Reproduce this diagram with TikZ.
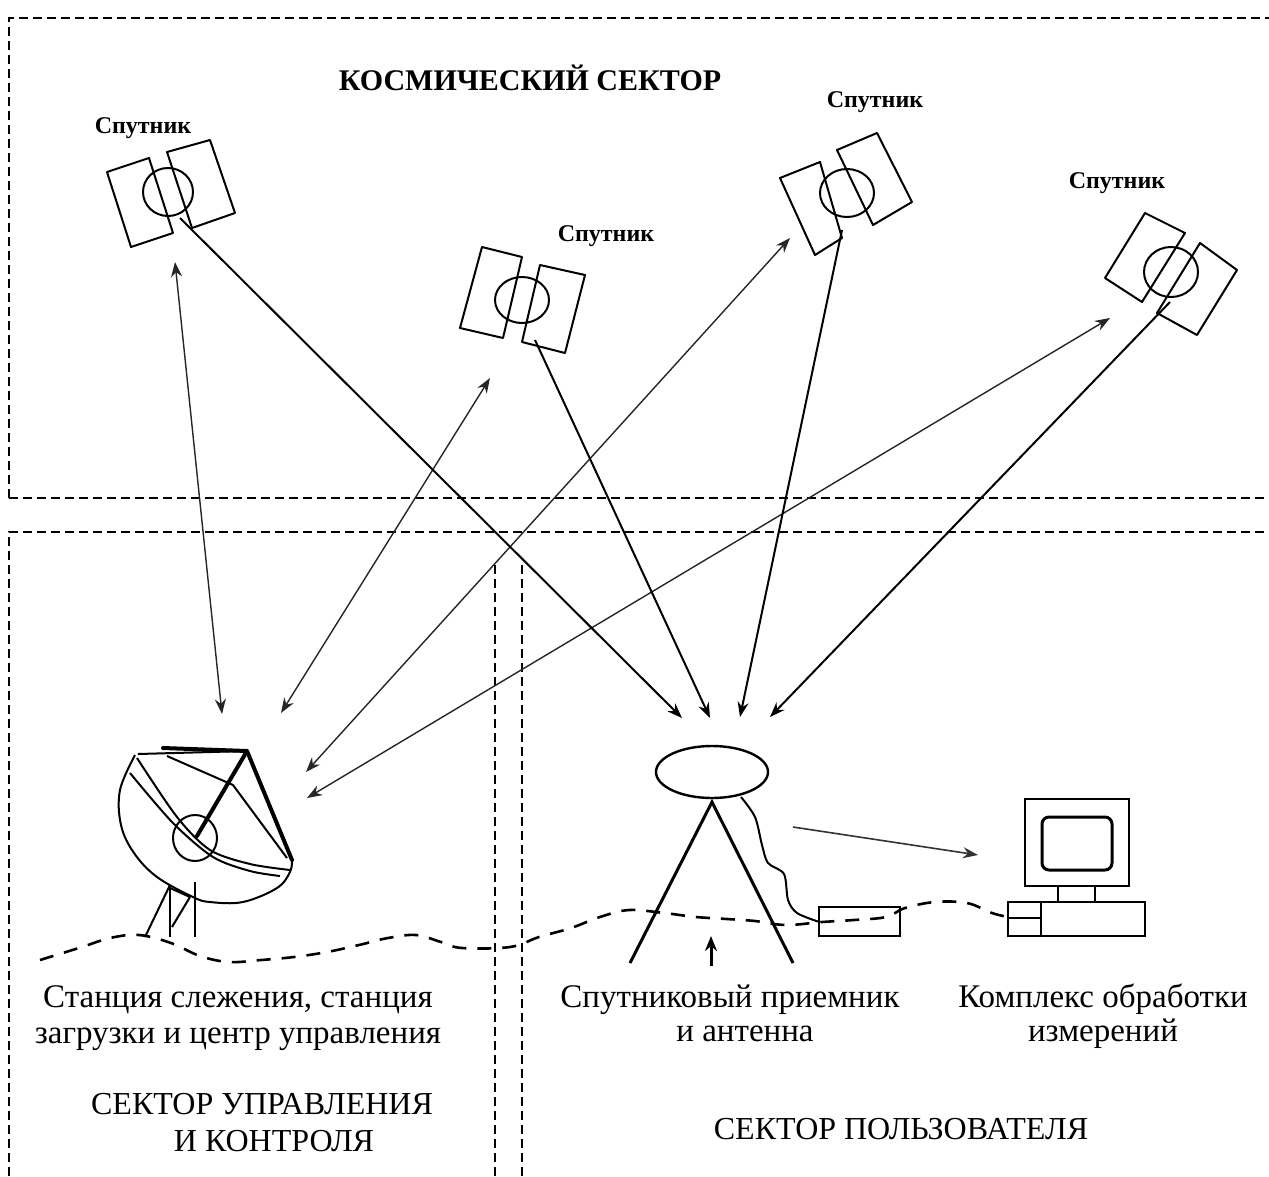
\documentclass[tikz,border=0pt]{standalone}
\usepackage{fontspec}
\setmainfont{Liberation Serif}
\usetikzlibrary{arrows.meta,shapes.geometric}

\tikzset{
  sector/.style={dash pattern=on 9pt off 5pt, line width=1.6pt},
  panel/.style={line width=2pt, line join=round},
  link/.style={line width=1.4pt, black!85, {Stealth[length=15pt,width=11pt]}-{Stealth[length=15pt,width=11pt]}},
  downlink/.style={line width=2pt, -{Stealth[length=15pt,width=11pt]}},
  ground/.style={line width=2.6pt, dash pattern=on 14pt off 11pt},
  thin/.style={line width=2pt, line join=round},
  thick/.style={line width=4pt, line cap=round, line join=round},
  lbl/.style={font=\fontsize{33}{36}\selectfont, anchor=base, inner sep=0pt},
  head/.style={font=\fontsize{32}{38}\selectfont, anchor=base, inner sep=0pt},
  satname/.style={font=\fontsize{24}{26}\selectfont\bfseries, inner sep=0pt},
}

\begin{document}
\begin{tikzpicture}[x=1pt,y=-1pt]
\useasboundingbox[fill=white] (0,0) rectangle (1269,1176);

% sector boundaries
\draw[sector] (9,498) -- (9,18) -- (1269,18);
\draw[sector] (9,498) -- (1269,498);
\draw[sector] (9,1176) -- (9,532) -- (1269,532);
\draw[sector] (495,565) -- (495,1176);
\draw[sector] (522,565) -- (522,1176);

\node[font=\fontsize{30}{34}\selectfont\bfseries, inner sep=0pt] (space) at (530,78) {КОСМИЧЕСКИЙ СЕКТОР};

% satellite 1
\draw[panel] (107,172) -- (149,158) -- (173,233) -- (131,247) -- cycle;
\draw[panel] (167,152) -- (210,140) -- (235,213) -- (192,228) -- cycle;
\draw[panel] (168,192) ellipse [x radius=25, y radius=24];
\node[satname] (n1) at (143,128) {Спутник};
\coordinate (s1a) at (175,262);
\coordinate (s1b) at (180,218);

% satellite 2
\draw[panel] (482,247) -- (522,257) -- (503,338) -- (460,328) -- cycle;
\draw[panel] (540,265) -- (585,275) -- (565,353) -- (522,342) -- cycle;
\draw[panel] (522,300) ellipse [x radius=27, y radius=23];
\node[satname] (n2) at (606,236) {Спутник};
\coordinate (s2a) at (490,378);
\coordinate (s2b) at (535,340);

% satellite 3
\draw[panel] (780,178) -- (820,162) -- (842,238) -- (815,255) -- cycle;
\draw[panel] (837,150) -- (877,133) -- (912,202) -- (873,225) -- cycle;
\draw[panel] (847,193) ellipse [x radius=27, y radius=24];
\node[satname] (n3) at (875,102) {Спутник};
\coordinate (s3a) at (790,238);
\coordinate (s3b) at (842,230);

% satellite 4
\draw[panel] (1145,213) -- (1185,233) -- (1142,302) -- (1105,278) -- cycle;
\draw[panel] (1200,243) -- (1237,270) -- (1197,335) -- (1157,313) -- cycle;
\draw[panel] (1171,272) ellipse [x radius=27, y radius=25];
\node[satname] (n4) at (1117,183) {Спутник};
\coordinate (s4a) at (1110,318);
\coordinate (s4b) at (1170,302);

% ground station ends of the links
\coordinate (d1) at (222,714);
\coordinate (d2) at (281,713);
\coordinate (d3) at (306,772);
\coordinate (d4) at (307,798);
% receiver ends of the downlinks
\coordinate (r1) at (682,718);
\coordinate (r2) at (710,718);
\coordinate (r3) at (740,717);
\coordinate (r4) at (770,717);

\draw[link] (s1a) -- (d1);
\draw[link] (s2a) -- (d2);
\draw[link] (s3a) -- (d3);
\draw[link] (s4a) -- (d4);
\draw[downlink] (s1b) -- (r1);
\draw[downlink] (s2b) -- (r2);
\draw[downlink] (s3b) -- (r3);
\draw[downlink] (s4b) -- (r4);

% tracking dish
\draw[thin] (247,751) -- (138,754);
\draw[thick] (163,748) -- (247,751) -- (292,860);
\draw[thick] (247,751) -- (197,836);
\draw[thin] plot[smooth, tension=0.6] coordinates {(135,755) (120,790) (121,825) (134,853) (157,877) (193,897) (210,902) (243,902) (277,888) (290,872) (292,860)};
\draw[thin] (167,756) -- (233,785) -- (287,858);
\draw[thin] plot[smooth, tension=0.5] coordinates {(137,758) (177,817) (210,850) (250,864) (290,870)};
\draw[thin] plot[smooth, tension=0.5] coordinates {(130,773) (173,823) (213,857) (250,871) (280,876)};
\draw[thin] (195,838) ellipse [x radius=22, y radius=23];
\draw[thin] (170,885) -- (145,937);
\draw[thin] (170,885) -- (170,937);
\draw[thin] (195,882) -- (195,937);
\draw[thin] (190,897) -- (172,927);
\draw[thin] (170,888) -- (190,897);

% ground line
\draw[ground] plot[smooth, tension=0.6] coordinates {(40,960) (82,947) (110,938) (139,935) (171,943) (200,956) (229,962) (261,960) (294,957) (327,952) (359,945) (388,938) (416,935) (441,942) (462,948) (510,947) (539,937) (571,928) (600,917) (629,910) (664,913) (696,917) (727,919) (755,921) (786,925) (822,922) (854,920) (886,917) (905,908) (935,902) (967,903) (992,913) (1008,917)};

% receiver and antenna
\node[draw, ellipse, line width=2.4pt, minimum width=112pt, minimum height=52pt, inner sep=0pt] (rx) at (712,772) {};
\coordinate (apex) at (712,802);
\draw[line width=3pt] (630,963) -- (apex) -- (793,963);
\node[draw, line width=2.2pt, minimum width=81pt, minimum height=29pt, inner sep=0pt] (box) at (859.5,921.5) {};
\draw[thin] plot[smooth, tension=0.5] coordinates {(741,797) (755,817) (762,845) (768,863) (784,874) (788,900) (797,913) (box.west)};
\draw[line width=3pt, -{Stealth[length=15pt,width=12pt]}] (711,966) -- (711,936);

% processing computer
\node[draw, line width=2.4pt, minimum width=104pt, minimum height=87pt, inner sep=0pt] (mon) at (1077,842.5) {};
\node[draw, line width=3pt, rounded corners=7pt, minimum width=70pt, minimum height=53pt, inner sep=0pt] (scr) at (1077,843.5) {};
\node[draw, line width=2.4pt, minimum width=137pt, minimum height=34pt, inner sep=0pt] (base) at (1076.5,919) {};
\draw[line width=2.4pt] (1058,886) -- (1058,902) (1095,886) -- (1095,902);
\draw[line width=2.4pt] (1041,902) -- (1041,936) (1008,918) -- (1041,918);
\draw[line width=1.6pt, black!80, -{Stealth[length=15pt,width=11pt]}] (793,827) -- (978,855);

% captions
\node[lbl] (c1a) at (238,1007) {Станция слежения, станция};
\node[lbl] (c1b) at (238,1043) {загрузки и центр управления};
\node[lbl] (c2a) at (730,1007) {Спутниковый приемник};
\node[lbl] (c2b) at (745,1041) {и антенна};
\node[lbl] (c3a) at (1103,1007) {Комплекс обработки};
\node[lbl] (c3b) at (1103,1041) {измерений};
\node[head] (h1a) at (262,1114) {СЕКТОР УПРАВЛЕНИЯ};
\node[head] (h1b) at (274,1151) {И КОНТРОЛЯ};
\node[head] (h2) at (901,1139) {СЕКТОР ПОЛЬЗОВАТЕЛЯ};
\end{tikzpicture}
\end{document}
